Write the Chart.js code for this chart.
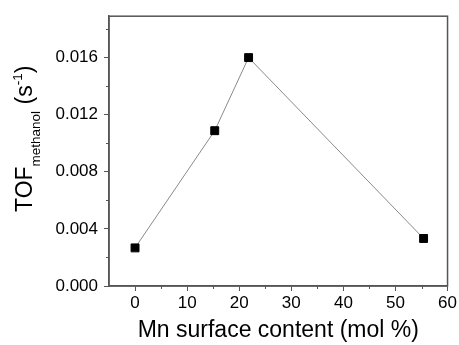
<!DOCTYPE html>
<html>
<head>
<meta charset="utf-8">
<script src="https://cdn.jsdelivr.net/npm/chart.js@4.4.0/dist/chart.umd.min.js"></script>
<style>
  html, body { margin: 0; padding: 0; background: #fff; }
  canvas { display: block; }
</style>
</head>
<body>
<canvas id="tof" width="459" height="345"></canvas>
<script>
// Mn surface content (mol %) and methanol turnover frequency (s^-1)
const mnContent = [0, 15.3, 21.8, 55.4];
const tofMethanol = [0.00267, 0.01088, 0.0160, 0.00333];
const xTicks = [0, 10, 20, 30, 40, 50, 60];
const yTicks = [0.000, 0.004, 0.008, 0.012, 0.016];
const xMinor = [5, 15, 25, 35, 45, 55];
const yMinor = [0.002, 0.006, 0.010, 0.014, 0.018];

const AXIS = '#555';
const FONT = 'Liberation Sans, Arial, sans-serif';

// box around plot + short minor ticks
const frame = {
  id: 'frame',
  afterDraw(chart) {
    const { ctx, chartArea: a, scales: { x, y } } = chart;
    ctx.save();
    ctx.strokeStyle = AXIS;
    ctx.lineWidth = 1.5;
    ctx.strokeRect(a.left, a.top, a.right - a.left, a.bottom - a.top);
    ctx.lineWidth = 1;
    ctx.beginPath();
    xMinor.forEach(v => {
      const px = Math.round(x.getPixelForValue(v)) + 0.5;
      ctx.moveTo(px, a.bottom);
      ctx.lineTo(px, a.bottom + 3);
    });
    yMinor.forEach(v => {
      const py = Math.round(y.getPixelForValue(v)) + 0.5;
      ctx.moveTo(a.left, py);
      ctx.lineTo(a.left - 3, py);
    });
    ctx.stroke();
    ctx.restore();
  }
};

// y title with subscript / superscript
const yTitle = {
  id: 'yTitle',
  afterDraw(chart) {
    const { ctx } = chart;
    const big = '23px ' + FONT, small = '13.5px ' + FONT;
    const parts = [
      ['TOF', big, 0],
      ['methanol', small, 8],
      [' (s', big, 0],
      ['-1', small, -10],
      [')', big, 0]
    ];
    ctx.save();
    ctx.translate(32, 212);
    ctx.rotate(-Math.PI / 2);
    ctx.fillStyle = '#000';
    ctx.textBaseline = 'alphabetic';
    let pos = 0;
    parts.forEach(([txt, f, dy]) => {
      ctx.font = f;
      ctx.fillText(txt, pos, dy);
      pos += ctx.measureText(txt).width;
    });
    ctx.restore();
  }
};

new Chart(document.getElementById('tof'), {
  type: 'scatter',
  data: {
    datasets: [{
      data: mnContent.map((v, i) => ({ x: v, y: tofMethanol[i] })),
      showLine: true,
      borderColor: '#8a8a8a',
      borderWidth: 1,
      pointStyle: 'rect',
      pointRadius: 5.6,
      pointBackgroundColor: '#000',
      pointBorderColor: '#000',
      pointBorderWidth: 1
    }]
  },
  options: {
    responsive: false,
    animation: false,
    devicePixelRatio: 1,
    layout: { padding: { top: 12, right: 10, left: 0, bottom: 0 } },
    plugins: { legend: { display: false }, tooltip: { enabled: false } },
    scales: {
      x: {
        min: -5,
        max: 60,
        afterBuildTicks: s => { s.ticks = xTicks.map(v => ({ value: v })); },
        afterFit: s => { s.height = 59; },
        grid: { drawOnChartArea: false, tickLength: 5, color: AXIS, tickWidth: 1 },
        border: { color: AXIS, width: 1.5 },
        ticks: { color: '#000', font: { size: 17, family: FONT }, padding: 2, maxRotation: 0 },
        title: {
          display: true,
          text: 'Mn surface content (mol %)',
          color: '#000',
          font: { size: 23, family: FONT },
          padding: { top: 0, bottom: 1 }
        }
      },
      y: {
        min: 0,
        max: 0.0189,
        afterBuildTicks: s => { s.ticks = yTicks.map(v => ({ value: v })); },
        afterFit: s => { s.width = 109; },
        grid: { drawOnChartArea: false, tickLength: 5, color: AXIS, tickWidth: 1 },
        border: { color: AXIS, width: 1.5 },
        ticks: {
          color: '#000',
          font: { size: 17, family: FONT },
          padding: 6,
          callback: v => v.toFixed(3)
        }
      }
    }
  },
  plugins: [frame, yTitle]
});
</script>
</body>
</html>
